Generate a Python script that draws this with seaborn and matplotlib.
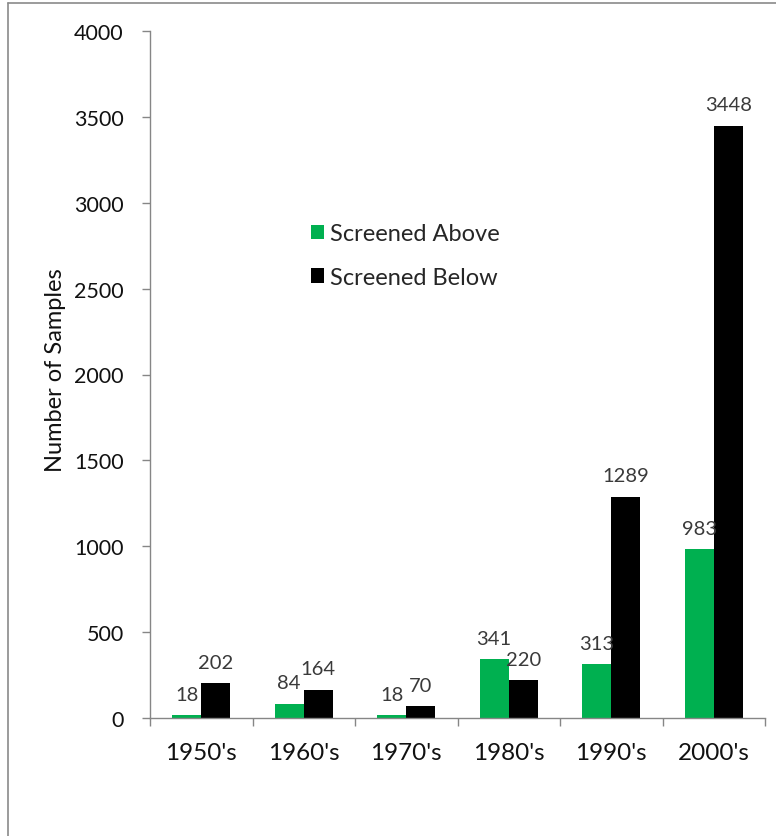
import matplotlib
matplotlib.use("Agg")
import matplotlib.pyplot as plt
from matplotlib.patches import Patch
from matplotlib.lines import Line2D
import seaborn as sns
import pandas as pd

# Sample counts per decade, split by screening result
decades = ["1950's", "1960's", "1970's", "1980's", "1990's", "2000's"]
screened_above = [18, 84, 18, 341, 313, 983]
screened_below = [202, 164, 70, 220, 1289, 3448]
series_names = ["Screened Above", "Screened Below"]
y_ticks = [0, 500, 1000, 1500, 2000, 2500, 3000, 3500, 4000]

colors = {"Screened Above": "#00B050", "Screened Below": "#000000"}

df = pd.DataFrame({
    "decade": decades * 2,
    "series": [series_names[0]] * len(decades) + [series_names[1]] * len(decades),
    "count": screened_above + screened_below,
})

sns.set_theme(style="white")
plt.rcParams["font.family"] = ["Lato", "DejaVu Sans"]

fig = plt.figure(figsize=(7.76, 8.37), dpi=100)
ax = fig.add_axes([150 / 776, 1 - 719 / 837, 615 / 776, 687 / 837])

sns.barplot(data=df, x="decade", y="count", hue="series", order=decades,
            hue_order=series_names, palette=colors, width=0.57, gap=0,
            saturation=1, edgecolor="none", linewidth=0, legend=False, ax=ax)

ax.set_xlim(-0.5, len(decades) - 0.5)
ax.set_ylim(0, 4000)
ax.set_yticks(y_ticks)
ax.set_yticklabels([str(v) for v in y_ticks], fontsize=15.5, color="#111111")

# value labels above each bar
for container in ax.containers:
    for bar in container:
        h = bar.get_height()
        ax.annotate(f"{int(h)}", (bar.get_x() + bar.get_width() / 2, h),
                    xytext=(0, 15), textcoords="offset points",
                    ha="center", va="center", fontsize=14.5,
                    color="#3a3a3a")

# spines and ticks
for side in ["top", "right"]:
    ax.spines[side].set_visible(False)
for side in ["left", "bottom"]:
    ax.spines[side].set_color("#868686")
    ax.spines[side].set_linewidth(1.0)

ax.set_xticks(range(len(decades)))
ax.set_xticklabels(decades, fontsize=17.5, color="#111111")
ax.set_xticks([i - 0.5 for i in range(len(decades) + 1)], minor=True)
ax.tick_params(axis="x", which="major", length=0, pad=17)
ax.tick_params(axis="x", which="minor", direction="out", length=6,
               width=1.0, color="#868686", bottom=True)
ax.tick_params(axis="y", which="major", direction="out", length=6,
               width=1.0, color="#868686", left=True, pad=13)

ax.set_xlabel("")
ax.set_ylabel("Number of Samples", fontsize=17, color="#111111")
ax.yaxis.set_label_coords(-0.137, 0.508)
ax.grid(False)

handles = [Patch(facecolor=colors[n], edgecolor="none") for n in series_names]
fig.legend(handles, series_names, loc="upper left",
           bbox_to_anchor=(302 / 776, 1 - 215 / 837), frameon=False,
           fontsize=17, handlelength=0.55, handleheight=0.55,
           handletextpad=0.25, labelspacing=0.95, borderaxespad=0)

# outer frame of the chart area (top and left edges)
fig.add_artist(Line2D([8 / 776, 1.0], [1 - 4 / 837, 1 - 4 / 837],
                      transform=fig.transFigure, color="#8a8a8a", lw=1.2))
fig.add_artist(Line2D([8 / 776, 8 / 776], [0.0, 1 - 4 / 837],
                      transform=fig.transFigure, color="#8a8a8a", lw=1.2))

fig.savefig("out.png", dpi=100)
